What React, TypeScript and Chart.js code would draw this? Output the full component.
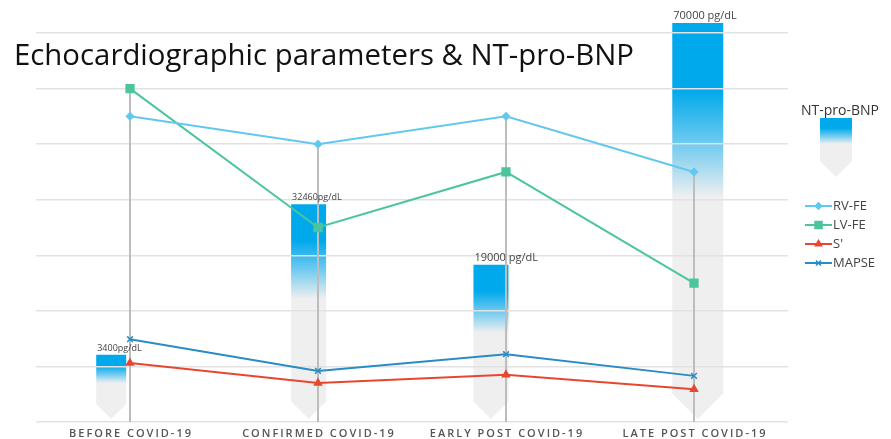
import React, { useEffect, useRef } from "react";
import { Chart, registerables } from "chart.js";
import { drawPoint } from "chart.js/helpers";

Chart.register(...registerables);

// ---------- data ----------
const categories = ["BEFORE COVID-19", "CONFIRMED COVID-19", "EARLY POST COVID-19", "LATE POST COVID-19"];
const rvFe = [55, 50, 55, 45];
const lvFe = [60, 35, 45, 25];
const sPrime = [10.6, 7.0, 8.5, 5.9];
const mapse = [14.9, 9.2, 12.2, 8.3];
const bnpLabels = ["3400pg/dL", "32460pg/dL", "19000 pg/dL", "70000 pg/dL"];
// visual heights of the NT-pro-BNP arrows, read on the 0-70 axis
const bnpBarHeights = [12.1, 39.2, 28.3, 71.8];
// horizontal centres of the arrows, in category units
const bnpBarX = [-0.1, 0.95, 1.92, 3.02];
const yMin = 0;
const yMax = 70;
const yStep = 10;

// ---------- styles ----------
const BAR_WIDTHS = [30, 35, 35, 51];
const BAR_LABEL_SIZES = [9, 9, 11, 11];
const BLUE = "#00a9eb";
const GRAY = "#efefef";
const TITLE = "Echocardiographic parameters & NT-pro-BNP";

function arrowBar(ctx: CanvasRenderingContext2D, x: number, top: number, w: number, tip: number) {
  const depth = w / 2;
  const rb = tip - depth;
  const g = ctx.createLinearGradient(0, top, 0, tip);
  g.addColorStop(0, BLUE);
  g.addColorStop(0.17, BLUE);
  g.addColorStop(0.3, "#6cc9f0");
  g.addColorStop(0.44, GRAY);
  g.addColorStop(1, GRAY);
  ctx.save();
  ctx.beginPath();
  ctx.moveTo(x, top);
  ctx.lineTo(x + w, top);
  ctx.lineTo(x + w, rb);
  ctx.lineTo(x + w / 2, tip);
  ctx.lineTo(x, rb);
  ctx.closePath();
  ctx.fillStyle = g;
  ctx.fill();
  ctx.restore();
}

function barGeom(chart: any, i: number) {
  const xb = chart.scales.xb;
  const y = chart.scales.y;
  const w = BAR_WIDTHS[i];
  const cx = xb.getPixelForValue(bnpBarX[i]);
  return { left: cx - w / 2, w, top: y.getPixelForValue(bnpBarHeights[i]), base: y.getPixelForValue(yMin) };
}

const customPlugin = {
  id: "custom",
  beforeDraw(chart: any) {
    const ctx = chart.ctx;
    bnpBarHeights.forEach((_, i) => {
      const g = barGeom(chart, i);
      arrowBar(ctx, g.left, g.top, g.w, g.base - 3);
    });
  },
  beforeDatasetsDraw(chart: any) {
    const ctx = chart.ctx;
    const x = chart.scales.x;
    const y = chart.scales.y;
    ctx.save();
    ctx.strokeStyle = "#bdbdbd";
    ctx.lineWidth = 2;
    categories.forEach((_, i) => {
      const px = x.getPixelForValue(i);
      const top = Math.max(rvFe[i], lvFe[i], sPrime[i], mapse[i]);
      ctx.beginPath();
      ctx.moveTo(px, y.getPixelForValue(top));
      ctx.lineTo(px, y.getPixelForValue(yMin));
      ctx.stroke();
    });
    ctx.restore();
  },
  afterDraw(chart: any) {
    const ctx = chart.ctx;
    const xs = chart.scales.x;
    const ys = chart.scales.y;
    // bar labels
    ctx.save();
    ctx.fillStyle = "#444";
    ctx.textBaseline = "alphabetic";
    ctx.textAlign = "left";
    bnpLabels.forEach((lab, i) => {
      const g = barGeom(chart, i);
      ctx.font = BAR_LABEL_SIZES[i] + 'px "Open Sans"';
      ctx.fillText(lab, g.left + 1, g.top - 4);
    });
    ctx.restore();

    // x labels
    ctx.save();
    ctx.fillStyle = "#555";
    ctx.font = '600 11px "Open Sans"';
    (ctx as any).letterSpacing = "2px";
    ctx.textAlign = "center";
    ctx.textBaseline = "middle";
    categories.forEach((c, i) => {
      ctx.fillText(c, xs.getPixelForValue(i) + 1, ys.getPixelForValue(yMin) + 12);
    });
    ctx.restore();

    // title
    ctx.save();
    ctx.fillStyle = "#111";
    ctx.textAlign = "left";
    ctx.textBaseline = "alphabetic";
    ctx.font = '30px "Open Sans"';
    const natural = ctx.measureText(TITLE).width;
    ctx.translate(14, 65);
    ctx.scale(620 / natural, 1);
    ctx.fillText(TITLE, 0, 0);
    ctx.restore();

    // legend: NT-pro-BNP
    ctx.save();
    ctx.fillStyle = "#333";
    ctx.font = '14px "Open Sans"';
    ctx.textAlign = "center";
    ctx.textBaseline = "middle";
    ctx.fillText("NT-pro-BNP", 840, 111);
    ctx.restore();
    arrowBar(ctx, 820, 118, 32, 177);

    // legend: lines
    const rows = [206, 225, 244, 263];
    ctx.save();
    for (let i = 0; i < 4; i++) {
      const ds = chart.data.datasets[i];
      const yy = rows[i];
      ctx.strokeStyle = ds.borderColor;
      ctx.lineWidth = 2;
      ctx.beginPath();
      ctx.moveTo(805, yy);
      ctx.lineTo(832, yy);
      ctx.stroke();
      ctx.fillStyle = ds.borderColor;
      ctx.strokeStyle = ds.borderColor;
      ctx.lineWidth = 1.5;
      drawPoint(ctx, { pointStyle: ds.pointStyle, radius: ds.pointRadius * 0.9, borderWidth: 1.5, rotation: 0 } as any, 818.5, yy);
      ctx.fillStyle = "#444";
      ctx.font = '13px "Open Sans"';
      ctx.textAlign = "left";
      ctx.textBaseline = "middle";
      ctx.fillText(ds.label, 833, yy);
    }
    ctx.restore();
  },
};

export default function App() {
  const ref = useRef<HTMLCanvasElement>(null);
  useEffect(() => {
    if (!ref.current) return;
    const lineDs = (label: string, data: number[], color: string, pointStyle: string, pointRadius: number) => ({
      type: "line" as const,
      label,
      data,
      borderColor: color,
      backgroundColor: color,
      borderWidth: 2,
      pointStyle,
      pointRadius,
      pointBorderWidth: 1.5,
      pointBackgroundColor: color,
      pointBorderColor: color,
      tension: 0,
      xAxisID: "x",
      yAxisID: "y",
    });
    const chart = new Chart(ref.current, {
      type: "line",
      data: {
        labels: categories,
        datasets: [
          lineDs("RV-FE", rvFe, "#62c8ee", "rectRot", 3.5),
          lineDs("LV-FE", lvFe, "#4cc59d", "rect", 5.5),
          lineDs("S'", sPrime, "#e8472f", "triangle", 4),
          lineDs("MAPSE", mapse, "#2b8cc4", "crossRot", 4),
          {
            type: "bar" as const,
            label: "NT-pro-BNP",
            data: bnpBarX.map((x, i) => ({ x, y: bnpBarHeights[i] })),
            backgroundColor: "rgba(0,0,0,0)",
            borderWidth: 0,
            xAxisID: "xb",
            yAxisID: "y",
          } as any,
        ],
      },
      options: {
        responsive: false,
        animation: false,
        events: [],
        layout: { padding: { left: 36, right: 103, top: 33, bottom: 17 } },
        plugins: { legend: { display: false }, tooltip: { enabled: false }, title: { display: false } },
        scales: {
          x: { type: "category", display: false, offset: true },
          xb: { type: "linear", display: false, min: -0.5, max: 3.5, offset: false, grid: { offset: false } },
          y: {
            type: "linear",
            min: yMin,
            max: yMax,
            ticks: { display: false, stepSize: yStep },
            border: { display: false },
            grid: { color: "#e2e2e2", lineWidth: 1.5, drawTicks: false },
            afterFit: (s: any) => {
              s.width = 0;
            },
          },
        },
      },
      plugins: [customPlugin],
    });
    return () => chart.destroy();
  }, []);
  return (
    <div style={{ position: "absolute", left: 0, top: 0, width: 891, height: 439, background: "#fff" }}>
      <canvas ref={ref} width={891} height={439} style={{ display: "block" }} />
    </div>
  );
}
